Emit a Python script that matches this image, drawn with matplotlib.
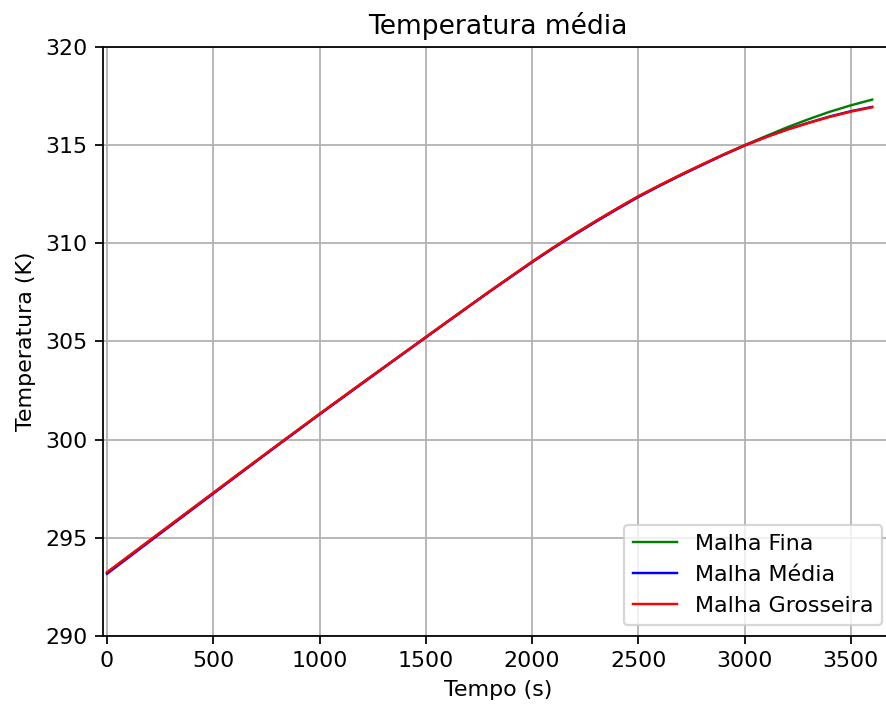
import matplotlib
matplotlib.use("Agg")
import matplotlib.pyplot as plt

tempo = [0, 200, 400, 600, 800, 1000, 1200, 1400, 1600, 1800, 2000,
         2100, 2200, 2300, 2400, 2500, 2600, 2700, 2800, 2900, 3000,
         3100, 3200, 3300, 3400, 3500, 3600]

malha_fina = [293.22, 294.85, 296.47, 298.09, 299.70, 301.30, 302.88, 304.44,
              306.00, 307.55, 309.06, 309.78, 310.47, 311.13, 311.77, 312.39,
              312.95, 313.49, 314.01, 314.52, 315.00, 315.46, 315.91, 316.32,
              316.70, 317.03, 317.32]
malha_media = [293.17, 294.81, 296.44, 298.07, 299.69, 301.29, 302.86, 304.43,
               305.99, 307.54, 309.04, 309.76, 310.44, 311.10, 311.74, 312.36,
               312.93, 313.47, 313.99, 314.50, 314.98, 315.41, 315.80, 316.14,
               316.46, 316.73, 316.95]
malha_grosseira = [293.25, 294.87, 296.49, 298.11, 299.72, 301.32, 302.89, 304.45,
                   306.01, 307.56, 309.07, 309.79, 310.48, 311.14, 311.78, 312.40,
                   312.96, 313.50, 314.02, 314.52, 314.99, 315.41, 315.79, 316.13,
                   316.44, 316.71, 316.93]

DPI = 159
W, H = 886, 708
fig = plt.figure(figsize=(W / DPI, H / DPI), dpi=DPI)
ax = fig.add_axes([103 / W, (H - 636) / H, (893 - 103) / W, (636 - 47) / H])

lw = 1.1
ax.plot(tempo, malha_fina, color="green", lw=lw, label="Malha Fina")
ax.plot(tempo, malha_media, color="blue", lw=lw, label="Malha Média")
ax.plot(tempo, malha_grosseira, color="red", lw=lw, label="Malha Grosseira")

ax.set_xlim(-19, 3698)
ax.set_ylim(290, 320)
ax.set_xticks(range(0, 3501, 500))
ax.set_yticks(range(290, 321, 5))
ax.grid(True)
ax.set_title("Temperatura média")
ax.set_xlabel("Tempo (s)")
ax.set_ylabel("Temperatura (K)")
ax.legend(loc="lower right")

fig.savefig("out.png", dpi=DPI)
